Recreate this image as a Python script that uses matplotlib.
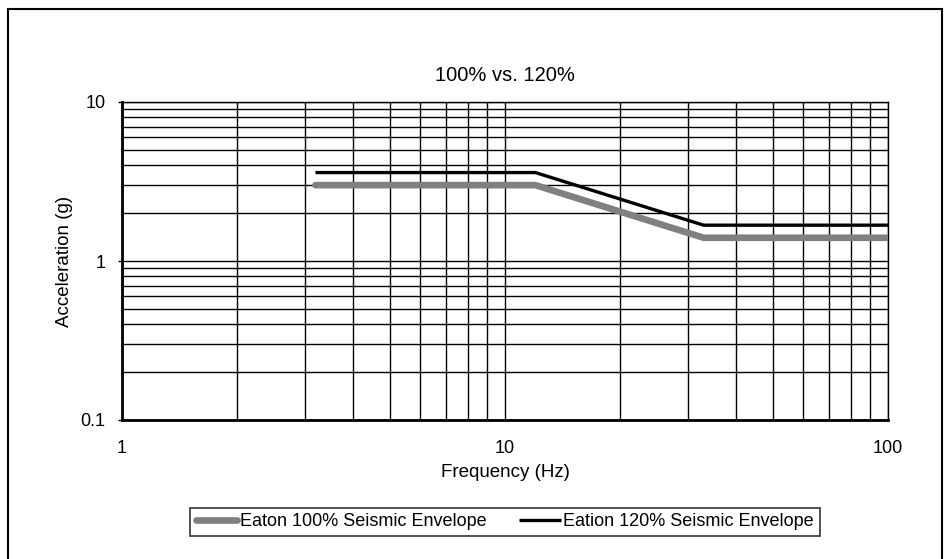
import matplotlib

matplotlib.use("Agg")
import matplotlib.pyplot as plt
from matplotlib.patches import Rectangle
from matplotlib.ticker import FixedLocator, FixedFormatter, LogLocator, NullFormatter

plt.rcParams["font.family"] = ["Liberation Sans", "DejaVu Sans"]

# frequency breakpoints (Hz) and acceleration (g)
freq = [3.2, 12, 33, 100]
accel_100 = [3.0, 3.0, 1.4, 1.4]
accel_120 = [3.6, 3.6, 1.68, 1.68]

x_ticks = [1, 10, 100]
x_labels = ["1", "10", "100"]
y_ticks = [0.1, 1, 10]
y_labels = ["0.1", "1", "10"]

W, H = 949, 559
fig = plt.figure(figsize=(W / 100, H / 100), dpi=100)
ax = fig.add_axes([122 / W, 1 - 420 / H, (888 - 122) / W, (420 - 102) / H])

ax.plot(freq, accel_100, color="#808080", linewidth=4.8, solid_capstyle="round",
        label="Eaton 100% Seismic Envelope", zorder=3)
ax.plot(freq, accel_120, color="black", linewidth=2.4, solid_capstyle="butt",
        label="Eation 120% Seismic Envelope", zorder=4)

ax.set_xscale("log")
ax.set_yscale("log")
ax.set_xlim(1, 100)
ax.set_ylim(0.1, 10)

for axis, ticks, labels in ((ax.xaxis, x_ticks, x_labels), (ax.yaxis, y_ticks, y_labels)):
    axis.set_major_locator(FixedLocator(ticks))
    axis.set_major_formatter(FixedFormatter(labels))
    axis.set_minor_locator(LogLocator(base=10, subs=range(2, 10)))
    axis.set_minor_formatter(NullFormatter())

ax.grid(True, which="both", color="black", linewidth=1.0)
ax.tick_params(which="minor", length=0)
ax.tick_params(axis="y", which="major", length=3, width=1, labelsize=13, pad=9)
ax.tick_params(axis="x", which="major", length=0, labelsize=13, pad=14.5)
for side in ("top", "right"):
    ax.spines[side].set_linewidth(1.0)
for side in ("left", "bottom"):
    ax.spines[side].set_linewidth(2.0)

ax.set_title("100% vs. 120%", fontsize=14.5, pad=15)
ax.set_xlabel("Frequency (Hz)", fontsize=13.5, labelpad=5)
ax.set_ylabel("Acceleration (g)", fontsize=13.5, labelpad=5)

leg = fig.legend(loc="center", bbox_to_anchor=(505 / W, 1 - 522 / H), ncol=2,
                 fontsize=13, frameon=True, fancybox=False, edgecolor="black",
                 handlelength=2.3, handletextpad=0.15, columnspacing=1.8,
                 borderpad=0.3)
leg.get_frame().set_linewidth(1.2)

# outer frame (bottom edge runs past the image edge in the reference)
fig.patches.append(Rectangle((7.5 / W, -5 / H), 934.5 / W, (H - 9 + 5) / H,
                             transform=fig.transFigure, fill=False,
                             edgecolor="black", linewidth=1.5))

fig.savefig("out.png", dpi=100)
plt.close(fig)
